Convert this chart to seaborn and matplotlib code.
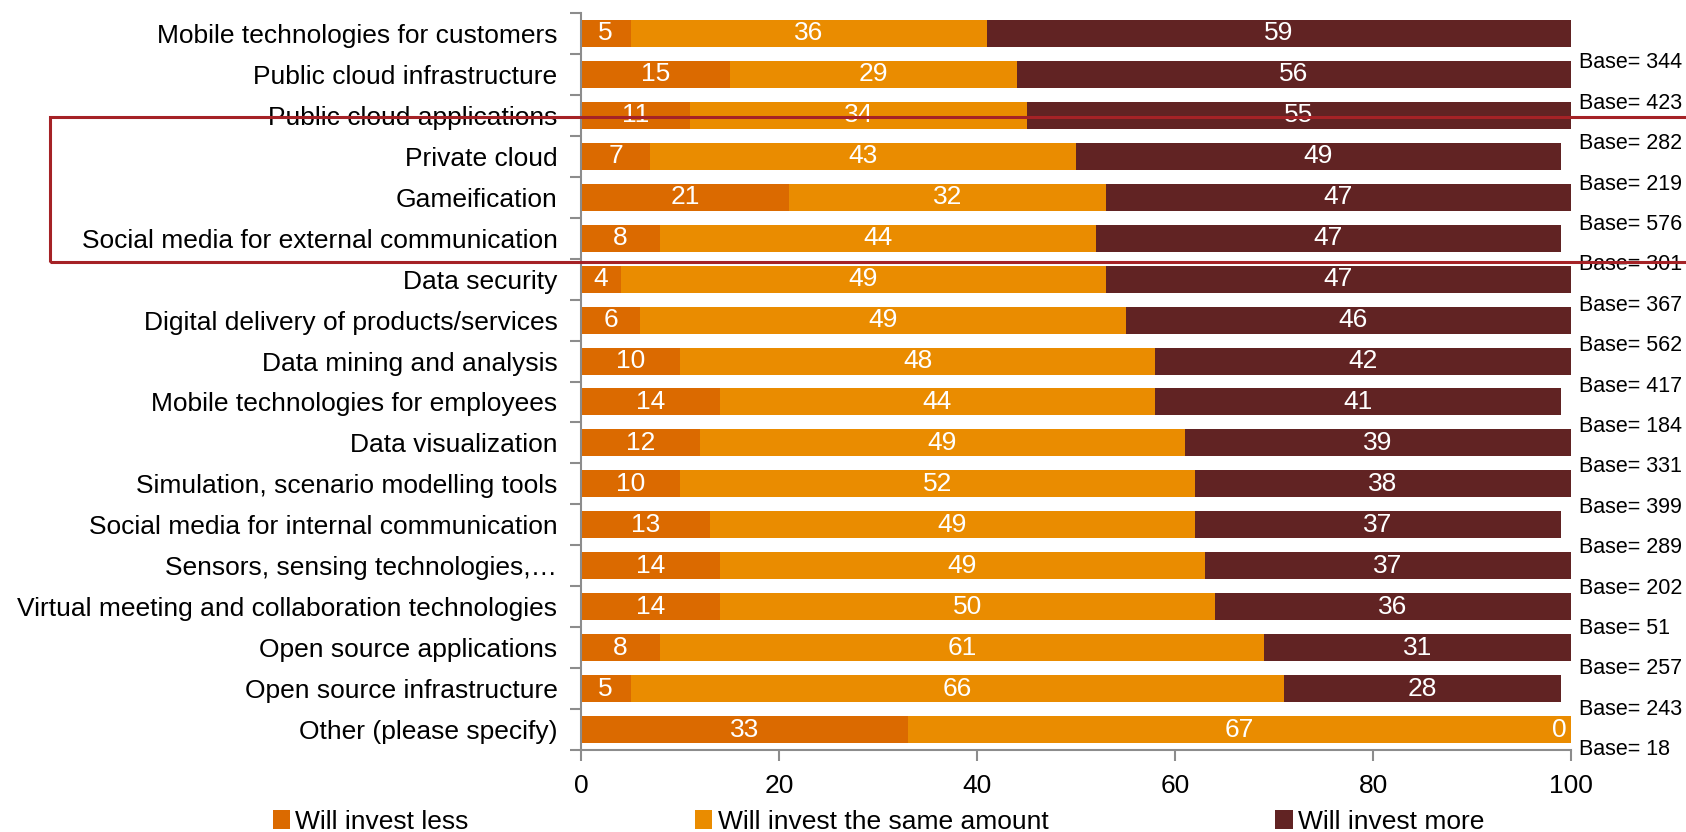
import matplotlib
matplotlib.use("Agg")
import matplotlib.pyplot as plt
from matplotlib.patches import Rectangle, Patch
import seaborn as sns
import pandas as pd
import numpy as np

categories = [
    "Mobile technologies for customers",
    "Public cloud infrastructure",
    "Public cloud applications",
    "Private cloud",
    "Gameification",
    "Social media for external communication",
    "Data security",
    "Digital delivery of products/services",
    "Data mining and analysis",
    "Mobile technologies for employees",
    "Data visualization",
    "Simulation, scenario modelling tools",
    "Social media for internal communication",
    "Sensors, sensing technologies,\u2026",
    "Virtual meeting and collaboration technologies",
    "Open source applications",
    "Open source infrastructure",
    "Other (please specify)",
]
invest_less = [5, 15, 11, 7, 21, 8, 4, 6, 10, 14, 12, 10, 13, 14, 14, 8, 5, 33]
invest_same = [36, 29, 34, 43, 32, 44, 49, 49, 48, 44, 49, 52, 49, 49, 50, 61, 66, 67]
invest_more = [59, 56, 55, 49, 47, 47, 47, 46, 42, 41, 39, 38, 37, 37, 36, 31, 28, 0]
base_labels = ["Base= 344", "Base= 423", "Base= 282", "Base= 219", "Base= 576", "Base= 301",
               "Base= 367", "Base= 562", "Base= 417", "Base= 184", "Base= 331", "Base= 399",
               "Base= 289", "Base= 202", "Base= 51", "Base= 257", "Base= 243", "Base= 18"]
series_names = ["Will invest less", "Will invest the same amount", "Will invest more"]
colors = ["#DB6A00", "#EA8C00", "#612323"]

FONT = "Liberation Sans"
sns.set_theme(style="white")
plt.rcParams["font.family"] = [FONT, "DejaVu Sans"]
plt.rcParams["text.color"] = "black"
plt.rcParams["xtick.labelcolor"] = "black"
plt.rcParams["ytick.labelcolor"] = "black"

W, H = 1686, 832
fig = plt.figure(figsize=(W / 100, H / 100), dpi=100)
ax = fig.add_axes([581 / W, 1 - 750 / H, (1571 - 581) / W, (750 - 13) / H])

df = pd.DataFrame({"cat": categories, "less": invest_less, "same": invest_same, "more": invest_more})
df["c1"] = df["less"]
df["c2"] = df["less"] + df["same"]
df["c3"] = df["less"] + df["same"] + df["more"]

for col, color in zip(["c3", "c2", "c1"], colors[::-1]):
    sns.barplot(data=df, y="cat", x=col, order=categories, color=color, width=0.66,
                orient="h", ax=ax, saturation=1, linewidth=0, errorbar=None)

fs = 19
# segment value labels
for i in range(len(categories)):
    starts = [0, df["c1"][i], df["c2"][i]]
    vals = [invest_less[i], invest_same[i], invest_more[i]]
    for s, v in zip(starts, vals):
        if v == 0:
            ax.text(s - 0.4, i, str(v), color="white", ha="right", va="center", fontsize=fs)
        else:
            ax.text(s + v / 2, i, str(v), color="white", ha="center", va="center", fontsize=fs)

ax.set_xlim(0, 100)
ax.set_ylim(len(categories) - 0.5, -0.5)
ax.set_xticks([0, 20, 40, 60, 80, 100])
ax.set_xlabel("")
ax.set_ylabel("")
ax.set_yticks(range(len(categories)))
ax.set_yticklabels(categories, fontsize=fs)
ax.set_yticks(np.arange(-0.5, len(categories), 1.0), minor=True)
ax.tick_params(axis="y", which="major", length=0, pad=17)
ax.tick_params(axis="y", which="minor", length=8, width=1.5, color="#8c8c8c", left=True)
ax.tick_params(axis="x", which="major", length=8, width=1.5, color="#8c8c8c", bottom=True,
               labelsize=fs, pad=9)
for s in ["top", "right"]:
    ax.spines[s].set_visible(False)
for s in ["left", "bottom"]:
    ax.spines[s].set_color("#8c8c8c")
    ax.spines[s].set_linewidth(1.5)
ax.grid(False)

# base labels
for k, t in enumerate(base_labels):
    y = 63 + k * 40.4
    fig.text(1579 / W, 1 - y / H, t, ha="left", va="center", fontsize=15.5)

# legend
handles = [Patch(facecolor=c, edgecolor="none") for c in colors]
fig.legend(handles, series_names, loc="center", bbox_to_anchor=(0.521, 1 - 822 / H), ncol=3,
           frameon=False, fontsize=fs, handlelength=0.65, handleheight=0.75, handletextpad=0.2,
           columnspacing=8.6, borderaxespad=0)

# red highlight box
rect = Rectangle((50 / W, 1 - 262 / H), 2.0, (262 - 116.7) / H, transform=fig.transFigure,
                 fill=False, edgecolor="#A52226", linewidth=2.2, zorder=100)
fig.add_artist(rect)

fig.savefig("out.png", dpi=100)
